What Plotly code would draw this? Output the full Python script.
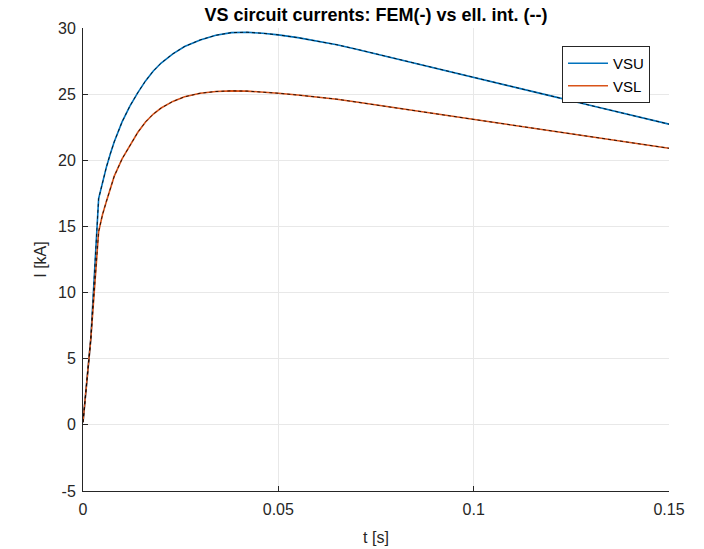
import plotly.graph_objects as go

t = [0, 0.002, 0.004, 0.005, 0.006, 0.007, 0.008, 0.010, 0.012, 0.014, 0.016,
     0.018, 0.020, 0.023, 0.026, 0.030, 0.034, 0.038, 0.042, 0.046, 0.050,
     0.055, 0.060, 0.065, 0.070, 0.080, 0.090, 0.100, 0.110, 0.120, 0.130,
     0.140, 0.150]
vsu = [0.2, 6.5, 17.1, 18.4, 19.5, 20.5, 21.4, 22.9, 24.1, 25.1, 26.0,
       26.75, 27.35, 28.05, 28.6, 29.1, 29.45, 29.65, 29.68, 29.6, 29.48,
       29.27, 29.02, 28.73, 28.40, 27.70, 26.98, 26.25, 25.55, 24.85, 24.14,
       23.44, 22.73]
vsl = [0.2, 6.5, 14.6, 15.9, 16.9, 17.9, 18.8, 20.1, 21.1, 22.1, 22.9,
       23.5, 23.95, 24.45, 24.8, 25.07, 25.2, 25.25, 25.23, 25.16, 25.07,
       24.93, 24.79, 24.62, 24.40, 23.97, 23.54, 23.10, 22.66, 22.22, 21.78,
       21.35, 20.91]
x_ticks = [0, 0.05, 0.1, 0.15]
x_tick_labels = ["0", "0.05", "0.1", "0.15"]
y_ticks = [-5, 0, 5, 10, 15, 20, 25, 30]
y_tick_labels = ["-5", "0", "5", "10", "15", "20", "25", "30"]

fig = go.Figure()
fig.add_trace(go.Scatter(x=t, y=vsu, mode="lines", name="VSU",
                         line=dict(color="#0072BD", width=1.6)))
fig.add_trace(go.Scatter(x=t, y=vsl, mode="lines", name="VSL",
                         line=dict(color="#D95319", width=1.6)))
fig.add_trace(go.Scatter(x=t, y=vsu, mode="lines", showlegend=False, hoverinfo="skip",
                         line=dict(color="black", width=0.8, dash="3px,3px")))
fig.add_trace(go.Scatter(x=t, y=vsl, mode="lines", showlegend=False, hoverinfo="skip",
                         line=dict(color="black", width=0.8, dash="3px,3px")))

font = "Liberation Sans, Arial, sans-serif"
fig.update_layout(
    width=704, height=549,
    margin=dict(l=83, r=35, t=28, b=58),
    paper_bgcolor="white", plot_bgcolor="white",
    font=dict(family=font, size=16, color="#262626"),
    title=dict(text="<b>VS circuit currents: FEM(-) vs ell. int. (--)</b>",
               x=(83 + 586 / 2) / 704, xanchor="center", y=1 - 15 / 549, yanchor="middle",
               font=dict(size=18, color="black")),
    xaxis=dict(range=[0, 0.15], tickvals=x_ticks, ticktext=x_tick_labels,
               showgrid=True, gridcolor="#e8e8e8", gridwidth=1, automargin=False,
               showline=True, linecolor="#262626", linewidth=1,
               ticks="inside", ticklen=5, tickcolor="#262626", ticklabelstandoff=4,
               zeroline=False, title=dict(text="t [s]", font=dict(size=16), standoff=14)),
    yaxis=dict(range=[-5, 30], tickvals=y_ticks, ticktext=y_tick_labels,
               showgrid=True, gridcolor="#e8e8e8", gridwidth=1, automargin=False,
               showline=True, linecolor="#262626", linewidth=1,
               ticks="inside", ticklen=5, tickcolor="#262626", ticklabelstandoff=3,
               zeroline=False, title=dict(text="I [kA]", font=dict(size=16), standoff=7)),
    legend=dict(x=(562 - 83) / 586, y=(491 - 46) / 463, xanchor="left", yanchor="top",
                bgcolor="white", bordercolor="#262626", borderwidth=1, itemwidth=40,
                font=dict(size=15, color="black"), tracegroupgap=0),
    showlegend=True,
)

fig.write_html("out.html")
